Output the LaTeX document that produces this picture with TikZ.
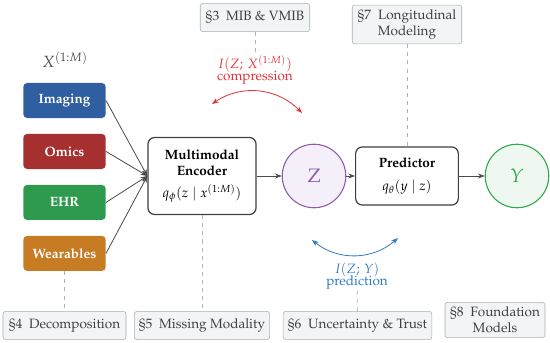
\documentclass[tikz,border=0pt]{standalone}
\usepackage[T1]{fontenc}
\usepackage{mathpazo}
\usepackage{amsmath,amssymb}
\usepackage{xcolor}
\usetikzlibrary{positioning,arrows.meta}

\definecolor{imgblue}{HTML}{2F5FA0}
\definecolor{omred}{HTML}{A5302F}
\definecolor{ehrgreen}{HTML}{2E9A4E}
\definecolor{wearorange}{HTML}{C77B23}
\definecolor{secfill}{HTML}{F3F4F5}
\definecolor{secline}{HTML}{A9AEB3}
\definecolor{zpurple}{HTML}{8E5BB5}
\definecolor{ygreen}{HTML}{2EA84A}
\definecolor{comred}{HTML}{E0303A}
\definecolor{predblue}{HTML}{2E7BC4}

\begin{document}
\begin{tikzpicture}[x=0.026cm,y=-0.026cm,node distance=11.3pt,
  mod/.style={rounded corners=3pt,fill=#1,text=white,font=\bfseries,minimum width=61pt,minimum height=26pt},
  sec/.style={draw=secline,fill=secfill,rounded corners=2pt,align=center,text=black!75,minimum height=21pt},
  blk/.style={draw=black!75,line width=0.9pt,rounded corners=5pt,fill=white,align=center},
  var/.style={circle,line width=0.8pt,draw=#1,minimum size=47pt},
  flow/.style={-{Stealth[length=5pt]},draw=black!70,semithick},
  guide/.style={draw=black!30,dashed,semithick},
  mi/.style={{Stealth[length=5pt]}-{Stealth[length=5pt]},semithick,draw=#1}]
\useasboundingbox (0,0) rectangle (550,343);

% inputs
\node[text=black!70,font=\large] (xin) at (65,60) {$X^{(1{:}M)}$};
\node[mod=imgblue] (img) at (64.5,100.5) {Imaging};
\node[mod=omred,below=of img] (omi) {Omics};
\node[mod=ehrgreen,below=of omi] (ehr) {EHR};
\node[mod=wearorange,below=of ehr] (wear) {Wearables};

% main chain
\node[blk,minimum width=80pt,minimum height=57pt] (enc) at (202,176) {\textbf{Multimodal}\\\textbf{Encoder}\\[4pt]$q_\phi(z\mid x^{(1:M)})$};
\node[var=zpurple,fill=zpurple!10,text=zpurple,font=\Large] (z) at (314,176) {$\mathrm{Z}$};
\node[blk,minimum width=76pt,minimum height=43pt] (pred) at (407,176) {\textbf{Predictor}\\[5pt]$q_\theta(y\mid z)$};
\node[var=ygreen,fill=ygreen!8,text=ygreen,font=\Large] (y) at (517,176) {$Y$};

\foreach \m in {img,omi,ehr,wear} \draw[flow] (\m.east) -- (enc.west);
\foreach \a/\b in {enc/z,z/pred,pred/y} \draw[flow] (\a) -- (\b);

% mutual information terms
\coordinate (cl) at (212,104);
\coordinate (cr) at (302,113);
\draw[mi=comred] (cr) to[bend right=40] (cl);
\node[text=comred,align=center,inner sep=1pt] (comp) at (255,70) {$I(Z;\,X^{(1:M)})$\\[-3pt]compression};
\coordinate (pl) at (312,240);
\coordinate (pr) at (398,238);
\draw[mi=predblue] (pl) to[bend right=40] (pr);
\node[text=predblue,align=center,inner sep=1pt] (predn) at (357,276) {$I(Z;\,Y)$\\[-3pt]prediction};

% sections
\node[sec,minimum width=81pt] (s3) at (255,17.5) {\S3\enspace MIB \& VMIB};
\node[sec,minimum width=81pt] (s7) at (407,24.5) {\S7\enspace Longitudinal\\Modeling};
\node[sec,minimum width=91pt] (s4) at (64.5,325.5) {\S4\enspace Decomposition};
\node[sec,minimum width=100pt] (s5) at (202,325.5) {\S5\enspace Missing Modality};
\node[sec,minimum width=110pt] (s6) at (357.5,325.5) {\S6\enspace Uncertainty \& Trust};
\node[sec,minimum width=74pt] (s8) at (495,320) {\S8\enspace Foundation\\Models};

\draw[guide] (s3) -- (comp);
\draw[guide] (s7) -- (pred);
\draw[guide] (wear) -- (s4);
\draw[guide] (enc) -- (s5);
\draw[guide] (predn) -- (s6);
\end{tikzpicture}
\end{document}
